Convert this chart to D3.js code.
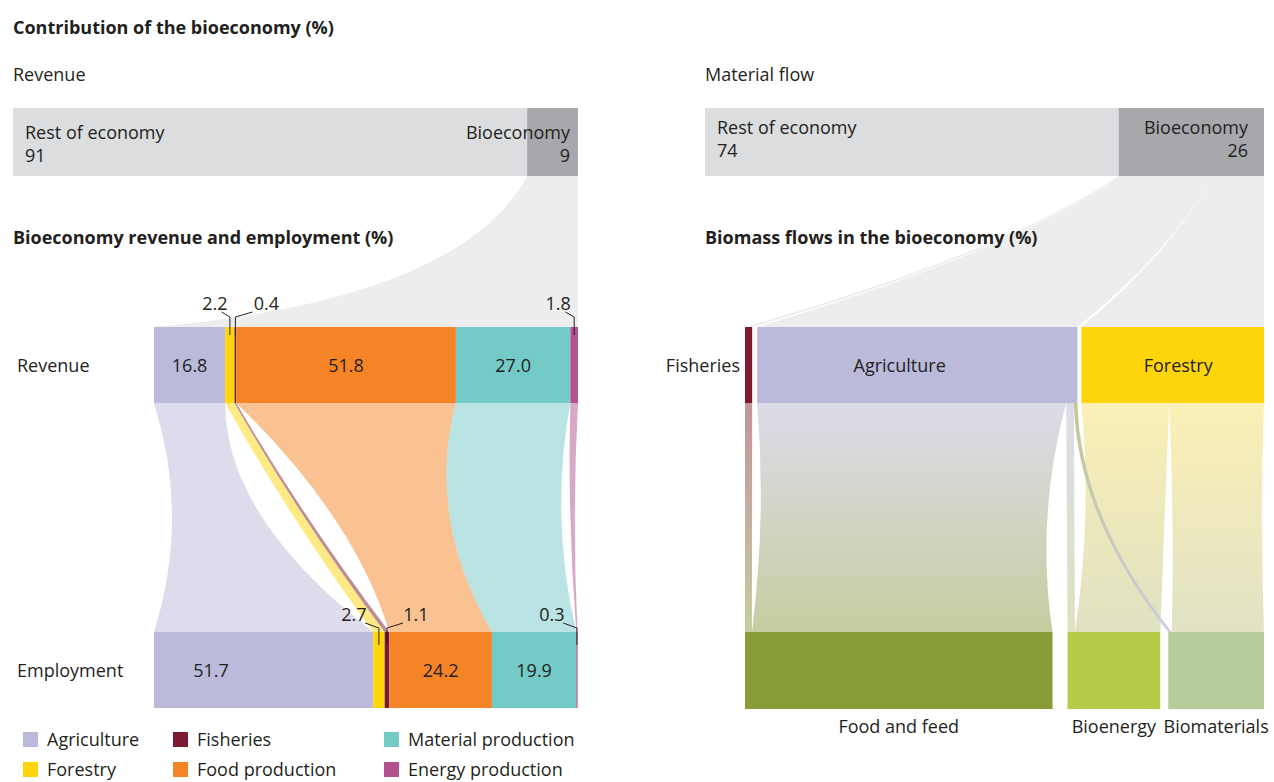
<!DOCTYPE html>
<html>
<head>
<meta charset="utf-8">
<script src="https://cdn.jsdelivr.net/npm/d3@7"></script>
<style>
  body { margin: 0; background: #fff; }
  svg text { font-family: "Open Sans", sans-serif; fill: #231f20; font-size: 18px; }
  .bold { font-weight: 700; }
</style>
</head>
<body>
<svg id="chart" width="1274" height="782"></svg>
<script>
// ---- data ----
const sectors = ["Agriculture", "Forestry", "Fisheries", "Food production", "Material production", "Energy production"];
const revenueShare = [16.8, 2.2, 0.4, 51.8, 27.0, 1.8];
const employmentShare = [51.7, 2.7, 1.1, 24.2, 19.9, 0.3];

const splitLabels = ["Rest of economy", "Bioeconomy"];
const revenueSplit = [91, 9];
const materialSplit = [74, 26];

const biomassSources = ["Fisheries", "Agriculture", "Forestry"];
const biomassUses = ["Food and feed", "Bioenergy", "Biomaterials"];
// source, use, share of bioeconomy biomass (%)
const biomassFlows = [
  ["Fisheries", "Food and feed", 1.4],
  ["Agriculture", "Food and feed", 60.6],
  ["Agriculture", "Bioenergy", 1.5],
  ["Agriculture", "Biomaterials", 0.7],
  ["Forestry", "Bioenergy", 17.2],
  ["Forestry", "Biomaterials", 18.6]
];

// ---- styles ----
const sectorColor = d3.scaleOrdinal(sectors, ["#bbbadb", "#fdd50a", "#7d1a33", "#f58426", "#74cac7", "#b3528f"]);
const nodeColor = {
  "Fisheries": "#7d1a33", "Agriculture": "#bbbadb", "Forestry": "#fdd50a",
  "Food and feed": "#879b37", "Bioenergy": "#b5cb4a", "Biomaterials": "#b5cc9a"
};
const nodeTint = {
  "Fisheries": "#c4939b", "Agriculture": "#dcdce9", "Forestry": "#fbf0b6",
  "Food and feed": "#c5cd9f", "Bioenergy": "#dee1c1", "Biomaterials": "#e1e2c4"
};
const nodeLabelFrac = { "Agriculture": 0.445, "Forestry": 0.53 };
const greyRest = "#dcdddf", greyBio = "#a7a8ab", greyLink = "#ecedec";
// how far each ribbon edge bows at mid height (left edge, right edge)
const sectorBend = [[18, -37], [-5, -5], [-5, -5], [21, -24], [-24, -12], [-3, -3]];
const flowBend = {
  "Fisheries>Food and feed": [0, 0],
  "Agriculture>Food and feed": [6, -12],
  "Agriculture>Bioenergy": [0, 0],
  "Agriculture>Biomaterials": [-22, -22],
  "Forestry>Bioenergy": [7, 0],
  "Forestry>Biomaterials": [2, -2]
};
const flowTint = { "Agriculture>Biomaterials": ["#c2c791", "#cccbe0"] };
// horizontal offset of the small-value callouts from their segment
const calloutDx = {
  Revenue: { "Forestry": -15, "Fisheries": 31, "Energy production": -16 },
  Employment: { "Forestry": -25, "Fisheries": 29, "Energy production": -25 }
};

const svg = d3.select("#chart");
const defs = svg.append("defs");
const fmt = d3.format(".1f");

function ribbon(a0, b0, y0, a1, b1, y1, bendA, bendB) {
  const ym = (y0 + y1) / 2;
  const ca = (a0 + a1) / 2 + 2 * bendA;
  const cb = (b0 + b1) / 2 + 2 * bendB;
  return `M${a0},${y0}Q${ca},${ym} ${a1},${y1}L${b1},${y1}Q${cb},${ym} ${b0},${y0}Z`;
}

// band from the top bar down to a row, edges are single bends
function band(t0, t1, y0, b0, b1, y1, fx, fy) {
  const cy = y0 + (y1 - y0) * fy;
  const c0 = t0 + (b0 - t0) * fx, c1 = t1 + (b1 - t1) * fx;
  return `M${t0},${y0}Q${c0},${cy} ${b0},${y1}L${b1},${y1}Q${c1},${cy} ${t1},${y0}Z`;
}

function label(x, y, txt, anchor, cls) {
  return svg.append("text")
    .attr("x", x).attr("y", y).attr("dy", "0.36em")
    .attr("text-anchor", anchor || "start")
    .attr("class", cls || null)
    .text(txt);
}

function topBar(xs, split, y, h, textY, inset) {
  const g = svg.append("g");
  g.append("rect").attr("x", xs(0)).attr("y", y).attr("width", xs(split[0]) - xs(0)).attr("height", h).attr("fill", greyRest);
  g.append("rect").attr("x", xs(split[0])).attr("y", y).attr("width", xs(100) - xs(split[0])).attr("height", h).attr("fill", greyBio);
  label(xs(0) + 12, textY, splitLabels[0]);
  label(xs(0) + 12, textY + 23, split[0]);
  label(xs(100) - inset, textY, splitLabels[1], "end");
  label(xs(100) - inset, textY + 23, split[1], "end");
}

// ---- titles ----
label(13, 28, "Contribution of the bioeconomy (%)", "start", "bold");
label(13, 75, "Revenue");
label(705, 75, "Material flow");

// ================= LEFT PANEL =================
const xTopL = d3.scaleLinear().domain([0, 100]).range([13, 578]);
const xS = d3.scaleLinear().domain([0, 100]).range([154, 578]);
const rows = [
  { key: "Revenue", values: revenueShare, y: 327, h: 76, calloutY: 304, tick: 8 },
  { key: "Employment", values: employmentShare, y: 632, h: 76, calloutY: 615, tick: 13 }
];
rows.forEach(r => {
  const cum = d3.cumsum(r.values);
  r.seg = r.values.map((v, i) => ({ x0: xS(cum[i] - v), x1: xS(cum[i]), v: v, name: sectors[i] }));
});

// grey link from bioeconomy to the revenue row
svg.append("path")
  .attr("d", band(xTopL(revenueSplit[0]), xTopL(100), 176, xS(0), xS(100), rows[0].y, 0.18, 0.82))
  .attr("fill", greyLink);

topBar(xTopL, revenueSplit, 108, 68, 132.5, 8);
label(13, 238, "Bioeconomy revenue and employment (%)", "start", "bold");

// ribbons between revenue and employment
sectors.forEach((s, i) => {
  const a = rows[0].seg[i], b = rows[1].seg[i];
  svg.append("path")
    .attr("d", ribbon(a.x0, a.x1, rows[0].y + rows[0].h, b.x0, b.x1, rows[1].y, sectorBend[i][0], sectorBend[i][1]))
    .attr("fill", sectorColor(s))
    .attr("fill-opacity", 0.5);
});

rows.forEach(r => {
  const g = svg.append("g");
  g.selectAll("rect").data(r.seg).join("rect")
    .attr("x", d => d.x0).attr("y", r.y)
    .attr("width", d => d.x1 - d.x0).attr("height", r.h)
    .attr("fill", d => sectorColor(d.name));
  label(17, r.y + r.h / 2 + 1, r.key);

  r.seg.forEach((d, i) => {
    const cx = (d.x0 + d.x1) / 2;
    if (d.v >= 5) {
      const lx = (r.key === "Employment" && i === 0) ? d.x0 + (d.x1 - d.x0) * 0.26 : cx;
      label(lx, r.y + r.h / 2 + 1, fmt(d.v), "middle");
    } else {
      const dx = calloutDx[r.key][d.name];
      label(cx + dx, r.calloutY, fmt(d.v), "middle");
      const pts = [[cx + dx * 0.55, r.calloutY + 8], [cx, r.calloutY + 13], [cx, r.y + r.tick]];
      svg.append("path")
        .attr("d", d3.line()(pts))
        .attr("fill", "none").attr("stroke", "#231f20").attr("stroke-width", 1);
    }
  });
});

// legend
const legend = svg.append("g");
sectors.forEach((s, i) => {
  const col = Math.floor(i / 2), row = i % 2;
  const lx = [23, 173, 384][col], ly = 732 + row * 30;
  legend.append("rect").attr("x", lx).attr("y", ly).attr("width", 15).attr("height", 15).attr("fill", sectorColor(s));
  label(lx + 24, ly + 8, s);
});

// ================= RIGHT PANEL =================
const xTopR = d3.scaleLinear().domain([0, 100]).range([705, 1264]);
const srcTotal = biomassSources.map(s => d3.sum(biomassFlows.filter(f => f[0] === s), f => f[2]));
const useTotal = biomassUses.map(u => d3.sum(biomassFlows.filter(f => f[1] === u), f => f[2]));

function layoutRow(names, totals, x0, x1, gaps) {
  const k = d3.scaleLinear().domain([0, d3.sum(totals)]).range([0, x1 - x0 - d3.sum(gaps)]);
  const out = {};
  let x = x0;
  names.forEach((n, i) => {
    out[n] = { x0: x, x1: x + k(totals[i]), k: k, off: x };
    x = out[n].x1 + (gaps[i] || 0);
  });
  return out;
}
const topY = 327, topH = 76, botY = 632, botH = 77;
const srcNodes = layoutRow(biomassSources, srcTotal, 745, 1264, [5, 4]);
const useNodes = layoutRow(biomassUses, useTotal, 745, 1264, [15, 8]);

// grey bands from the bioeconomy share to each source
const xBio = d3.scaleLinear().domain([0, d3.sum(srcTotal)]).range([xTopR(materialSplit[0]), xTopR(100)]);
const srcCum = d3.cumsum(srcTotal);
biomassSources.forEach((s, i) => {
  const n = srcNodes[s];
  svg.append("path")
    .attr("d", band(xBio(srcCum[i] - srcTotal[i]), xBio(srcCum[i]), 176, n.x0, n.x1, topY, 0.3, 0.5))
    .attr("fill", greyLink);
});

topBar(xTopR, materialSplit, 108, 68, 127.5, 16);
label(705, 238, "Biomass flows in the bioeconomy (%)", "start", "bold");

// biomass links with vertical gradients
const linksOrdered = biomassSources.flatMap(s => biomassUses.map(u => biomassFlows.find(f => f[0] === s && f[1] === u)).filter(Boolean));
const linkGeo = {};
linksOrdered.forEach(f => {
  const sn = srcNodes[f[0]];
  linkGeo[f[0] + ">" + f[1]] = { a0: sn.off, b0: sn.off + sn.k(f[2]) };
  sn.off += sn.k(f[2]);
});
linksOrdered.forEach(f => {
  const tn = useNodes[f[1]];
  const g = linkGeo[f[0] + ">" + f[1]];
  g.a1 = tn.off; g.b1 = tn.off + tn.k(f[2]);
  tn.off += tn.k(f[2]);
});
// wide links first, thin crossing links on top
const drawOrder = linksOrdered.slice().sort((a, b) => b[2] - a[2]);
drawOrder.forEach((f, i) => {
  const key = f[0] + ">" + f[1];
  const g = linkGeo[key];
  const stops = flowTint[key] || [nodeTint[f[0]], nodeTint[f[1]]];
  const grad = defs.append("linearGradient")
    .attr("id", "lg" + i).attr("gradientUnits", "userSpaceOnUse")
    .attr("x1", 0).attr("x2", 0).attr("y1", topY + topH).attr("y2", botY);
  grad.append("stop").attr("offset", 0).attr("stop-color", stops[0]);
  grad.append("stop").attr("offset", 1).attr("stop-color", stops[1]);
  svg.append("path")
    .attr("d", ribbon(g.a0, g.b0, topY + topH, g.a1, g.b1, botY, flowBend[key][0], flowBend[key][1]))
    .attr("fill", "url(#lg" + i + ")");
});

// nodes
biomassSources.forEach(s => {
  const n = srcNodes[s];
  svg.append("rect").attr("x", n.x0).attr("y", topY).attr("width", n.x1 - n.x0).attr("height", topH).attr("fill", nodeColor[s]);
  if (n.x1 - n.x0 > 40) label(n.x0 + (n.x1 - n.x0) * (nodeLabelFrac[s] || 0.5), topY + topH / 2 + 1, s, "middle");
  else label(n.x0 - 5, topY + topH / 2 + 1, s, "end");
});
biomassUses.forEach(u => {
  const n = useNodes[u];
  svg.append("rect").attr("x", n.x0).attr("y", botY).attr("width", n.x1 - n.x0).attr("height", botH).attr("fill", nodeColor[u]);
  label((n.x0 + n.x1) / 2, 727, u, "middle");
});
</script>
</body>
</html>
